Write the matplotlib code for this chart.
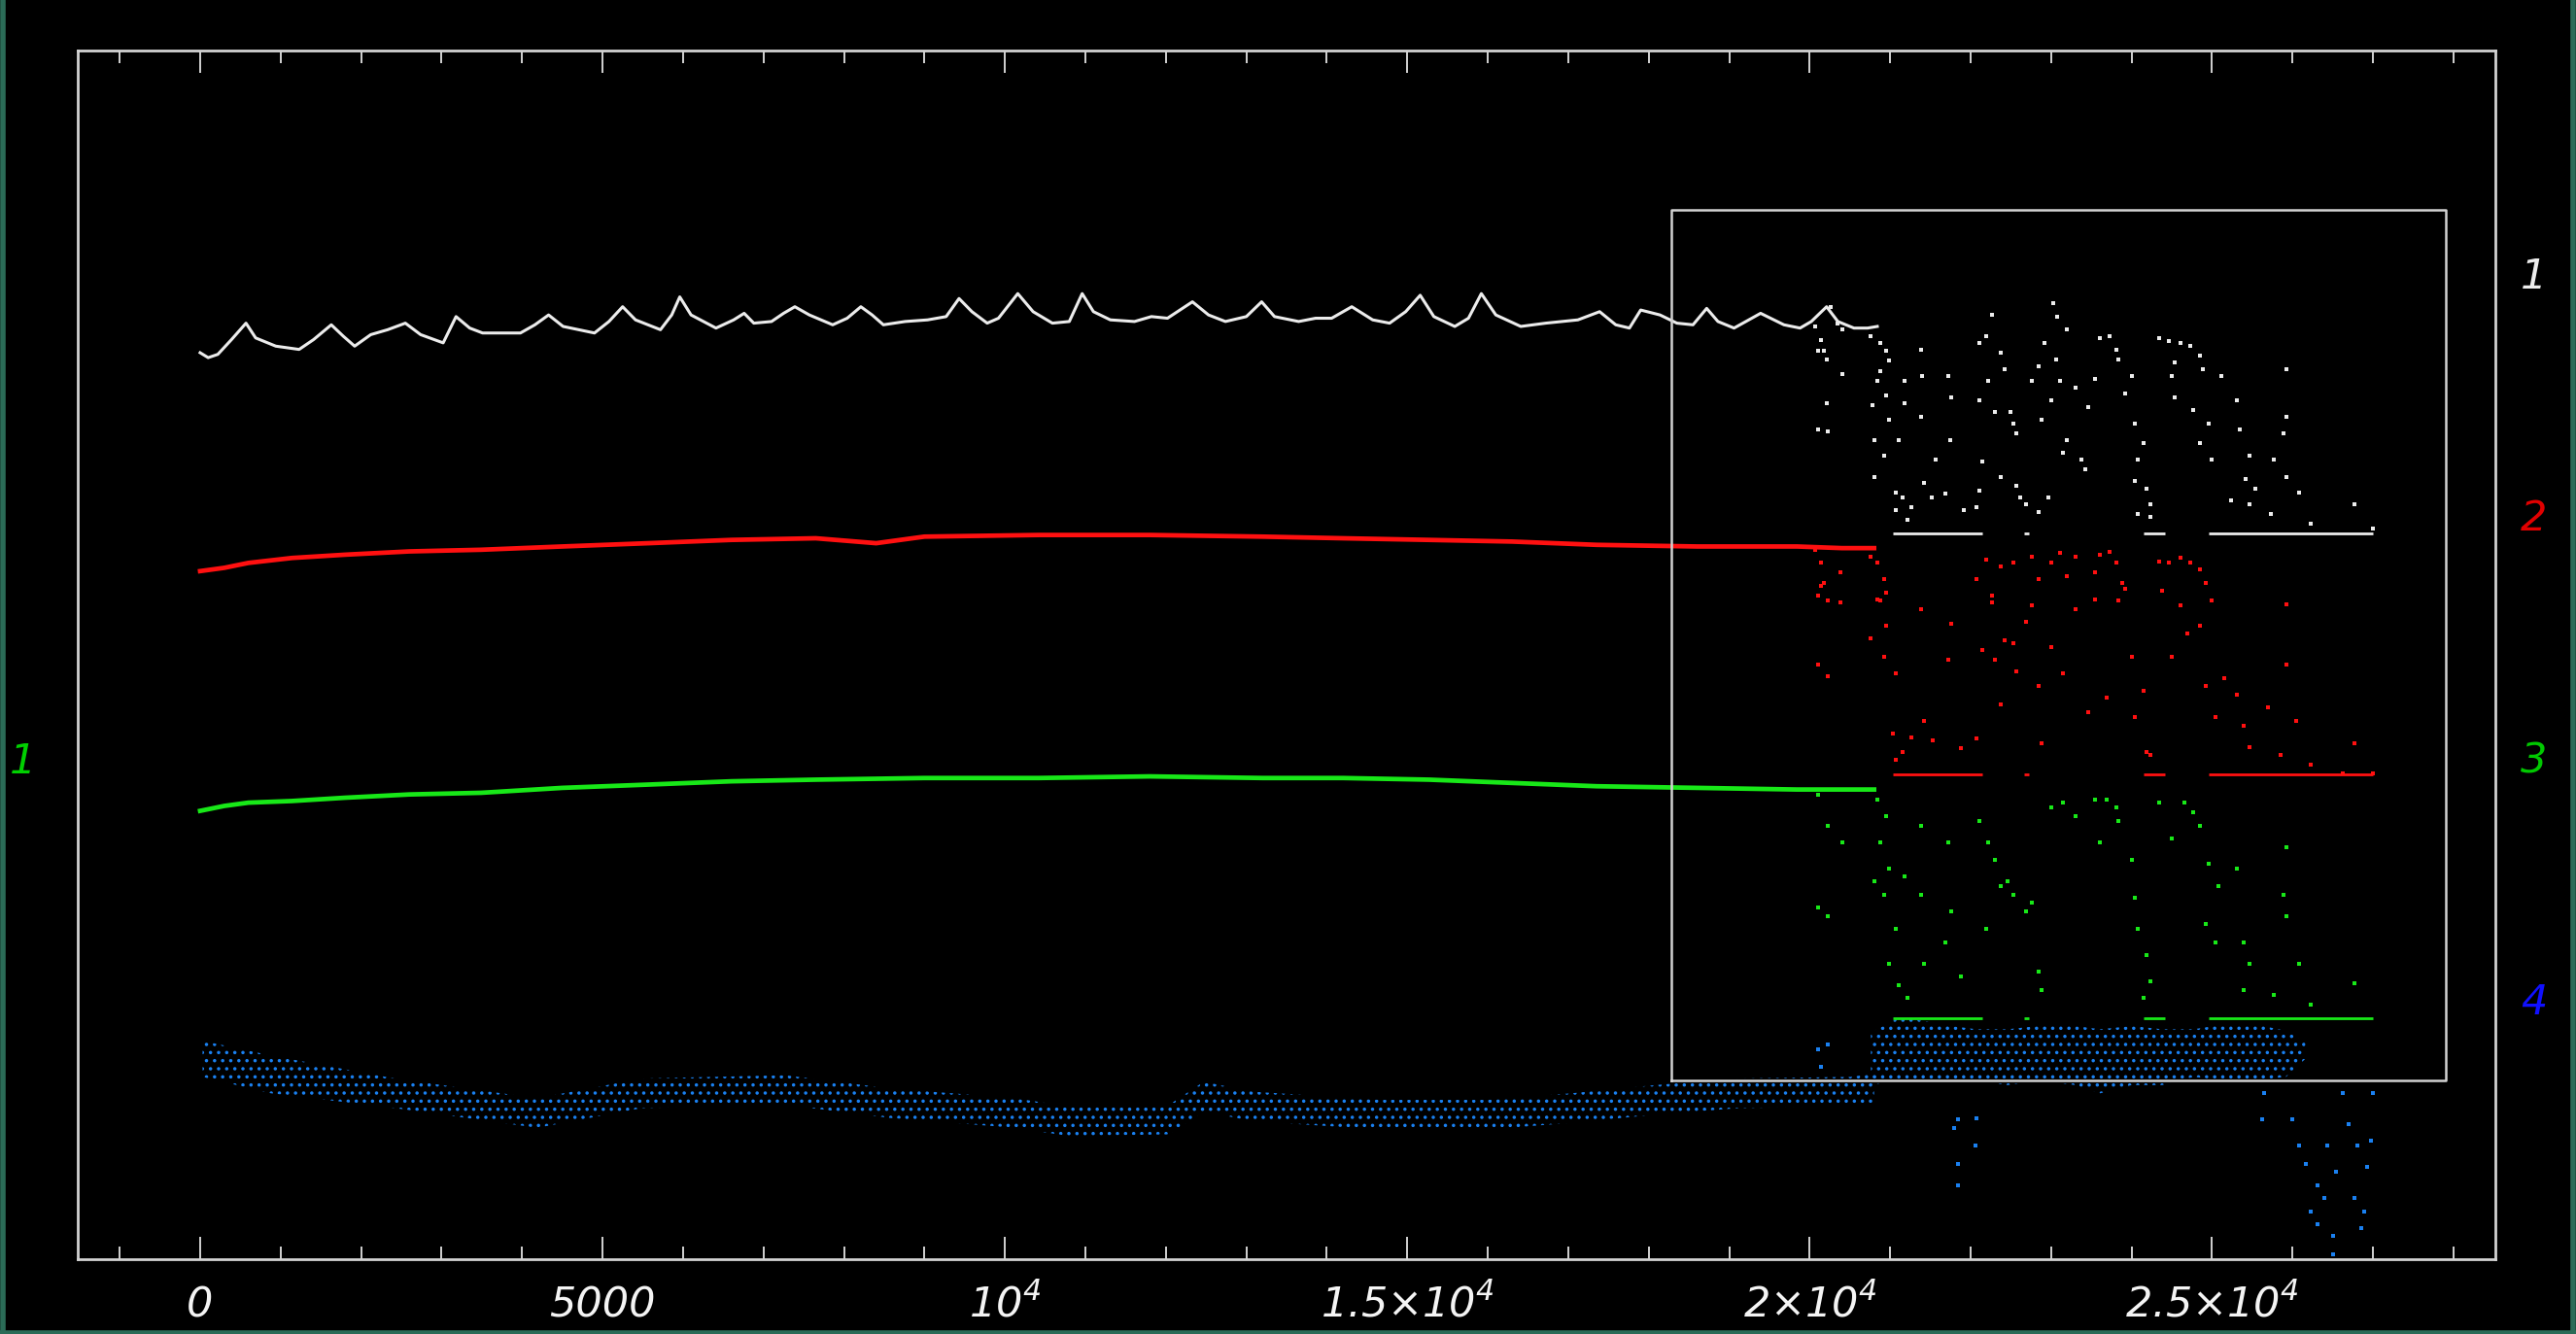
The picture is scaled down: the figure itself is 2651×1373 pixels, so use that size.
import matplotlib
matplotlib.use('Agg')
import matplotlib.pyplot as plt
from matplotlib.lines import Line2D

plt.rcParams['mathtext.fontset'] = 'custom'
plt.rcParams['mathtext.rm'] = 'DejaVu Sans:italic'
plt.rcParams['mathtext.it'] = 'DejaVu Sans:italic'
plt.rcParams['hatch.linewidth'] = 1.3

# x ticks
tick_pos = [0, 5000, 10000, 15000, 20000, 25000]
tick_labels = ['0', '5000', r'$10^{4}$', r'$1.5{\times}10^{4}$',
               r'$2{\times}10^{4}$', r'$2.5{\times}10^{4}$']
minor_pos = [-1000, 1000, 2000, 3000, 4000, 6000, 7000, 8000, 9000, 11000,
             12000, 13000, 14000, 16000, 17000, 18000, 19000, 21000, 22000,
             23000, 24000, 26000, 27000, 28000]

# trace 1 (white)
w_x = [0, 100, 220, 390, 570, 690, 940, 1230, 1410, 1630, 1780, 1920, 2120,
       2330, 2550, 2740, 3020, 3180, 3350, 3510, 3760, 3980, 4160, 4330, 4510,
       4900, 5080, 5250, 5410, 5720, 5860, 5960, 6100, 6410, 6630, 6760, 6880,
       7100, 7250, 7390, 7570, 7860, 8040, 8210, 8350, 8490, 8760, 9040, 9270,
       9430, 9590, 9780, 9920, 10160, 10350, 10590, 10800, 10960, 11100, 11310,
       11610, 11820, 12020, 12330, 12530, 12740, 13000, 13190, 13350, 13650,
       13860, 14060, 14310, 14570, 14780, 14980, 15160, 15330, 15590, 15760,
       15920, 16100, 16410, 16720, 16920, 17120, 17390, 17590, 17760, 17900,
       18140, 18350, 18550, 18720, 18860, 19060, 19390, 19680, 19880, 20020,
       20210, 20350, 20550, 20720, 20840]
w_y = [552, 549, 551, 560, 570, 561, 556, 554, 560, 569, 562, 556, 563, 566,
       570, 563, 558, 574, 567, 564, 564, 564, 569, 575, 568, 564, 571, 580,
       572, 566, 575, 586, 575, 567, 572, 576, 570, 571, 576, 580, 575, 569,
       573, 580, 575, 569, 571, 572, 574, 585, 577, 570, 573, 588, 577, 570,
       571, 588, 577, 572, 571, 574, 573, 583, 575, 571, 574, 583, 574, 571,
       573, 573, 580, 572, 570, 577, 587, 574, 568, 573, 588, 575, 568, 570,
       571, 572, 577, 569, 567, 578, 575, 570, 569, 579, 571, 567, 576, 569,
       567, 571, 580, 571, 567, 567, 568]
w_tail_x = [20070, 20140, 20180, 20110, 20210, 20400, 20210, 20110, 20220,
            20260, 20340, 20410, 20760, 20880, 20950, 20990, 20880, 20840,
            20950, 20780, 20990, 20800, 21110, 20920, 20800, 21070, 21150,
            21070, 21260, 21220, 21420, 21380, 21390, 21180, 21180, 21380,
            21570, 21720, 21760, 21750, 21520, 21690, 21920, 22070, 22110,
            22190, 22110, 22260, 22380, 22420, 22220, 22300, 22490, 22530,
            22570, 22110, 22150, 22380, 22570, 22610, 22690, 22840, 22960,
            22760, 22840, 22920, 23030, 23070, 23190, 23060, 23110, 23000,
            22880, 23190, 23150, 23380, 23420, 23300, 23460, 23540, 23610,
            23730, 23810, 23840, 24000, 23920, 24040, 24150, 24080, 24040,
            24190, 24230, 24080, 24230, 24340, 24460, 24610, 24730, 24850,
            24880, 24540, 24500, 24540, 24770, 24960, 24850, 25000, 25120,
            25310, 25350, 25460, 25420, 25540, 25460, 25230, 25730, 25770,
            25920, 25920, 25890, 25920, 26080, 26230, 26770, 27000]
w_tail_y = [568, 560, 553, 553, 548, 539, 521, 505, 504, 580, 570, 566, 562,
            558, 553, 547, 541, 535, 526, 520, 511, 499, 499, 489, 476, 467,
            464, 456, 458, 450, 473, 554, 538, 535, 521, 513, 487, 538, 525,
            499, 464, 466, 456, 458, 468, 562, 558, 575, 552, 542, 535, 516,
            516, 509, 503, 523, 486, 476, 471, 464, 460, 455, 464, 535, 544,
            558, 582, 574, 566, 548, 535, 523, 511, 499, 491, 487, 481, 531,
            519, 536, 561, 562, 554, 548, 538, 527, 509, 497, 487, 474, 469,
            460, 454, 452, 561, 559, 558, 556, 550, 542, 546, 538, 525, 517,
            509, 497, 487, 538, 523, 505, 489, 475, 469, 460, 462, 454, 487,
            542, 513, 503, 476, 467, 448, 460, 445]

# trace 2 (red)
r_x = [0, 300, 600, 1140, 1800, 2600, 3490, 4500, 5570, 6600, 7650, 8400,
       9000, 10420, 11800, 13200, 14200, 15270, 16300, 17350, 18600, 19840,
       20400, 20800]
r_y = [419, 421, 424, 427, 429, 431, 432, 434, 436, 438, 439, 436, 440, 441,
       441, 440, 439, 438, 437, 435, 434, 434, 433, 433]
r_tail_x = [20070, 20140, 20180, 20110, 20220, 20380, 20760, 20840, 20920,
            20950, 20880, 22070, 22190, 22260, 22380, 22530, 22760, 22840,
            23000, 23110, 23190, 23300, 23540, 23610, 23730, 23810, 23920,
            24340, 24460, 24610, 24730, 24850, 24920, 25000, 25920, 23840,
            20140, 20380, 20110, 20220, 20840, 20950, 20760, 21070, 20920,
            21030, 21150, 21260, 21070, 21380, 21420, 21530, 21760, 21720,
            21880, 22070, 22150, 22260, 22300, 22420, 22530, 22570, 22380,
            22690, 22760, 22840, 22880, 23000, 23150, 23300, 23460, 23540,
            23690, 23880, 24000, 24040, 24150, 24230, 24190, 24380, 24500,
            24610, 24690, 24850, 24920, 25040, 25150, 25310, 25390, 25460,
            25690, 25920, 25920, 26040, 25850, 26230, 26620, 26770, 27000]
r_tail_y = [432, 424, 412, 404, 401, 418, 428, 424, 414, 406, 401, 414, 426,
            404, 422, 424, 428, 414, 424, 430, 416, 428, 418, 429, 431, 424,
            408, 425, 424, 427, 424, 420, 412, 401, 399, 401, 410, 400, 362,
            355, 402, 386, 378, 357, 367, 320, 309, 318, 304, 396, 328, 316,
            387, 365, 311, 317, 371, 400, 365, 377, 375, 358, 338, 388, 398,
            349, 314, 373, 357, 396, 333, 402, 342, 412, 367, 330, 346, 307,
            309, 407, 367, 398, 381, 386, 349, 330, 354, 344, 325, 312, 336,
            399, 362, 328, 307, 301, 296, 314, 296]

# trace 3 (green)
g_x = [0, 300, 600, 1140, 1800, 2600, 3490, 4500, 5570, 6600, 7650, 9000,
       10420, 11800, 13200, 14200, 15270, 16300, 17350, 18600, 19840, 20400,
       20800]
g_y = [273, 276, 278, 279, 281, 283, 284, 287, 289, 291, 292, 293, 293, 294,
       293, 293, 292, 290, 288, 287, 286, 286, 286]
g_tail_x = [20110, 20220, 20410, 20110, 20220, 20840, 20950, 20880, 20990,
            20800, 20920, 21070, 20990, 21110, 21220, 21380, 21420, 21380,
            21180, 21720, 21760, 21690, 21880, 22110, 22220, 22190, 22300,
            22380, 22460, 22530, 22690, 22760, 22840, 22880, 23000, 23150,
            23300, 23540, 23610, 23690, 23810, 23840, 24000, 24040, 24080,
            24190, 24230, 24150, 24340, 24500, 24650, 24770, 24850, 24960,
            25080, 24920, 25040, 25310, 25390, 25460, 25390, 25920, 25920,
            25890, 26080, 25770, 26230, 26770]
g_tail_y = [283, 264, 254, 214, 209, 280, 270, 254, 238, 230, 222, 201, 180,
            167, 159, 264, 180, 222, 233, 254, 212, 193, 172, 267, 254, 201,
            243, 227, 230, 222, 212, 217, 175, 164, 275, 278, 270, 280, 254,
            280, 275, 267, 243, 220, 201, 185, 169, 159, 278, 256, 278, 272,
            264, 241, 227, 204, 193, 238, 193, 180, 164, 251, 209, 222, 180,
            161, 155, 168]

# saturated floor of traces 1-3 in the tail, as (start, end) runs
floor_runs = [(21030, 22150), (22660, 22720), (24150, 24420), (24960, 27000)]
floor_levels = [442, 295, 147]

# trace 4 (blue): band envelopes
b_x = [30, 880, 2420, 4190, 5490, 7270, 8570, 10120, 10800, 12040, 12470,
       13080, 14670, 16000, 17040, 18080, 19120, 20510, 20800]
b_hi = [133, 124, 110, 98, 110, 112, 104, 98, 93, 94, 108, 102, 97, 97, 101,
        106, 110, 111, 113]
b_lo = [111, 101, 92, 80, 92, 94, 86, 80, 75, 76, 90, 84, 79, 79, 83, 88, 92,
        93, 95]
b_tail_band_x = [20760, 21070, 21300, 21760, 22070, 22460, 22840, 23300,
                 23610, 24000, 24380, 24770, 25150, 25540, 25920, 26160]
b_tail_band_hi = [138, 146, 146, 142, 140, 140, 142, 142, 140, 142, 140, 140,
                  143, 143, 139, 132]
b_tail_band_lo = [106, 109, 109, 109, 109, 106, 109, 106, 101, 106, 106, 111,
                  109, 109, 111, 122]
b_tail_x = [20110, 20220, 20140, 21840, 22070, 21800, 22060, 21840, 21840,
            25620, 25650, 26000, 26080, 26160, 26310, 26390, 26310, 26500,
            26500, 26620, 26700, 26810, 26930, 26770, 26890, 26970, 27000,
            26850, 26430, 26230, 26540]
b_tail_y = [128, 131, 117, 85, 86, 80, 69, 58, 45, 85, 101, 85, 69, 58, 45,
            37, 21, 14, 3, 101, 82, 69, 56, 37, 29, 72, 101, 19, 69, 29, 53]

# selection box
box_x = (18280, 27900)
box_y = (109, 639)

# series labels on the right
series_names = ['1', '2', '3', '4']
series_label_y = [598, 451, 303, 156]

WHITE = '#ececec'
RED = '#ff1010'
GREEN = '#18e818'
BLUE = '#1a80f0'
AXC = '#d2d2d2'

fig = plt.figure(figsize=(26.51, 13.73), dpi=100, facecolor='black')
ax = fig.add_axes([0.0302, 0.0561, 0.9385, 0.906])
ax.set_facecolor('black')

# trace 4
ax.fill_between(b_x, b_lo, b_hi, facecolor='none', edgecolor=BLUE,
                hatch='..', linewidth=0)
ax.fill_between(b_tail_band_x, b_tail_band_lo, b_tail_band_hi,
                facecolor='none', edgecolor=BLUE, hatch='..', linewidth=0)
ax.scatter(b_tail_x, b_tail_y, s=7, marker='s', color=BLUE, linewidths=0)

# traces 1-3
ax.plot(w_x, w_y, color=WHITE, lw=2.2)
ax.scatter(w_tail_x, w_tail_y, s=7, marker='s', color=WHITE, linewidths=0)
ax.plot(r_x, r_y, color=RED, lw=3.4)
ax.scatter(r_tail_x, r_tail_y, s=6, marker='s', color=RED, linewidths=0)
ax.plot(g_x, g_y, color=GREEN, lw=3.4)
ax.scatter(g_tail_x, g_tail_y, s=6, marker='s', color=GREEN, linewidths=0)

for lvl, col in zip(floor_levels, [WHITE, RED, GREEN]):
    for x0, x1 in floor_runs:
        ax.hlines(lvl, x0, x1, color=col, lw=2)

# selection box
ax.plot([box_x[0], box_x[1], box_x[1], box_x[0], box_x[0]],
        [box_y[0], box_y[0], box_y[1], box_y[1], box_y[0]],
        color=AXC, lw=1.8)

for name, yv, col in zip(series_names, series_label_y,
                         [WHITE, '#e00000', '#00c800', '#1010ff']):
    ax.text(29000, yv, name, color=col, fontsize=31, style='italic',
            ha='center', va='center', clip_on=False)
ax.text(-2200, 303, '1', color='#00d000', fontsize=31, style='italic',
        ha='center', va='center', clip_on=False)

ax.set_xlim(-1520, 28520)
ax.set_ylim(0, 736)
ax.set_yticks([])
ax.set_xticks(tick_pos)
ax.set_xticklabels(tick_labels)
ax.set_xticks(minor_pos, minor=True)
ax.tick_params(axis='x', which='both', direction='in', top=True, bottom=True,
               color=AXC, width=1.4, labelcolor='#f4f4f4', labelsize=31,
               pad=43)
ax.tick_params(axis='x', which='major', length=16.5)
ax.tick_params(axis='x', which='minor', length=9.5)
for lab in ax.get_xticklabels():
    lab.set_verticalalignment('baseline')
    lab.set_fontstyle('italic')
for sp in ax.spines.values():
    sp.set_color(AXC)
    sp.set_linewidth(2)

# thin teal border of the window
for xs, ys in [([0.001, 0.001], [0, 1]), ([0.999, 0.999], [0, 1]),
               ([0, 1], [0.001, 0.001])]:
    fig.add_artist(Line2D(xs, ys, color='#2b6b57', lw=4,
                          transform=fig.transFigure))

fig.savefig('out.png', dpi=100, facecolor='black')
